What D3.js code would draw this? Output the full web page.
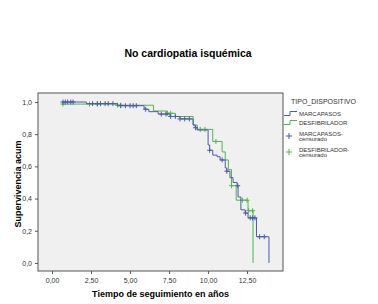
<!DOCTYPE html>
<html lang="en">
<head>
<meta charset="UTF-8">
<title>No cardiopatia isquémica</title>
<script src="https://d3js.org/d3.v7.min.js"></script>
<style>
  body { margin: 0; background: #fff; }
  text { font-family: "Liberation Sans", Arial, sans-serif; }
</style>
</head>
<body>
<script>
// step curves [tiempo, supervivencia]
const marcapasos = [
  [0.65, 1.0], [2.2, 0.99], [4.2, 0.977], [5.9, 0.955], [6.2, 0.94], [6.8, 0.925],
  [7.56, 0.91], [8.2, 0.895], [9.04, 0.857], [9.17, 0.84], [9.3, 0.826], [10.0, 0.733],
  [10.1, 0.70], [10.3, 0.67], [10.58, 0.66], [10.77, 0.64], [11.1, 0.59], [11.2, 0.57],
  [11.4, 0.53], [11.6, 0.50], [11.86, 0.48], [11.92, 0.41], [12.1, 0.33], [12.37, 0.31],
  [12.56, 0.28], [13.1, 0.163], [13.9, 0.0]
];
const desfibrilador = [
  [0.65, 0.987], [4.1, 0.98], [6.5, 0.944], [7.37, 0.93], [7.9, 0.91], [9.04, 0.857],
  [9.3, 0.83], [10.3, 0.755], [10.9, 0.69], [11.1, 0.64], [11.3, 0.58], [11.5, 0.48],
  [11.8, 0.39], [12.56, 0.325], [12.88, 0.0]
];
const censMarcapasos = [0.7, 0.85, 1.0, 1.2, 1.35, 2.6, 2.9, 3.1, 3.4, 3.6, 3.9, 4.4, 4.7, 5.0, 5.2, 5.4,
  6.0, 7.0, 7.3, 7.6, 7.9, 8.2, 8.5, 8.8, 9.2, 10.1, 10.9, 11.2, 11.9, 12.4, 12.7, 12.85, 13.0, 13.3, 13.6];
const censDesfibrilador = [0.7, 2.4, 2.9, 4.2, 4.4, 7.4, 7.6, 9.5, 9.8, 10.5, 11.5, 12.2, 12.5, 12.6, 12.85];
const xTicks = [0, 2.5, 5, 7.5, 10, 12.5];
const yTicks = [0, 0.2, 0.4, 0.6, 0.8, 1.0];
const legendItems = [["MARCAPASOS"], ["DESFIBRILADOR"], ["MARCAPASOS-", "censurado"], ["DESFIBRILADOR-", "censurado"]];

const W = 378, H = 304;
const m = {left: 38, top: 93, right: 283, bottom: 271};
const blue = "#4a5cab", green = "#52b552";

const svg = d3.select("body").append("svg").attr("width", W).attr("height", H);

const x = d3.scaleLinear().domain([-0.9, 14.8]).range([m.left, m.right]);
const y = d3.scaleLinear().domain([-0.05, 1.056]).range([m.bottom, m.top]);

svg.append("text").attr("x", 188).attr("y", 57).attr("text-anchor", "middle")
  .attr("font-size", 10.5).attr("font-weight", "bold").text("No cardiopatia isquémica");

svg.append("rect").attr("x", m.left).attr("y", m.top)
  .attr("width", m.right - m.left).attr("height", m.bottom - m.top)
  .attr("fill", "#f0f0f0").attr("stroke", "#555").attr("stroke-width", 1);

const fmt = d => d3.format(".2f")(d).replace(".", ",");
svg.append("g").attr("transform", `translate(0,${m.bottom})`)
  .call(d3.axisBottom(x).tickValues(xTicks).tickSize(3).tickFormat(fmt))
  .call(g => g.select(".domain").remove())
  .call(g => g.selectAll("text").attr("font-size", 7).attr("fill", "#333").attr("dy", "0.9em"))
  .call(g => g.selectAll("line").attr("stroke", "#555"));

svg.append("g").attr("transform", `translate(${m.left},0)`)
  .call(d3.axisLeft(y).tickValues(yTicks).tickSize(3).tickFormat(d => d3.format(".1f")(d).replace(".", ",")))
  .call(g => g.select(".domain").remove())
  .call(g => g.selectAll("text").attr("font-size", 7).attr("fill", "#333"))
  .call(g => g.selectAll("line").attr("stroke", "#555"));

svg.append("text").attr("transform", `translate(21,${(m.top + m.bottom) / 2 + 2}) rotate(-90)`)
  .attr("text-anchor", "middle").attr("font-size", 9).attr("font-weight", "bold").text("Supervivencia acum");
svg.append("text").attr("x", (m.left + m.right) / 2).attr("y", 297).attr("text-anchor", "middle")
  .attr("font-size", 9).attr("font-weight", "bold").text("Tiempo de seguimiento en años");

const line = d3.line().x(d => x(d[0])).y(d => y(d[1])).curve(d3.curveStepAfter);
function survAt(series, t) {
  let s = series[0][1];
  for (const p of series) if (p[0] <= t) s = p[1];
  return s;
}
function drawCurve(series, cens, color) {
  svg.append("path").datum(series).attr("d", line).attr("fill", "none")
    .attr("stroke", color).attr("stroke-width", 1);
  svg.append("g").selectAll("path").data(cens).join("path")
    .attr("d", t => {
      const cx = x(t), cy = y(survAt(series, t));
      return `M${cx - 2.5},${cy}H${cx + 2.5}M${cx},${cy - 2.5}V${cy + 2.5}`;
    })
    .attr("stroke", color).attr("stroke-width", 1);
}
drawCurve(desfibrilador, censDesfibrilador, green);
drawCurve(marcapasos, censMarcapasos, blue);

// legend
const lg = svg.append("g");
lg.append("text").attr("x", 291).attr("y", 104).attr("font-size", 7).attr("fill", "#333").text("TIPO_DISPOSITIVO");
const colors = [blue, green, blue, green];
const rowsY = [114, 123, 134, 150];
legendItems.forEach((lab, i) => {
  const ry = rowsY[i];
  if (i < 2) {
    lg.append("path").attr("d", `M284,${ry + 1.5}H290V${ry - 2.5}H297`)
      .attr("fill", "none").attr("stroke", colors[i]).attr("stroke-width", 1);
  } else {
    lg.append("path").attr("d", `M286,${ry + 2}H292M289,${ry - 1}V${ry + 5}`)
      .attr("stroke", colors[i]).attr("stroke-width", 1);
  }
  lab.forEach((t, j) => {
    lg.append("text").attr("x", 299).attr("y", ry + 1.5 + j * 5)
      .attr("font-size", 6).attr("fill", "#333").text(t);
  });
});
</script>
</body>
</html>
